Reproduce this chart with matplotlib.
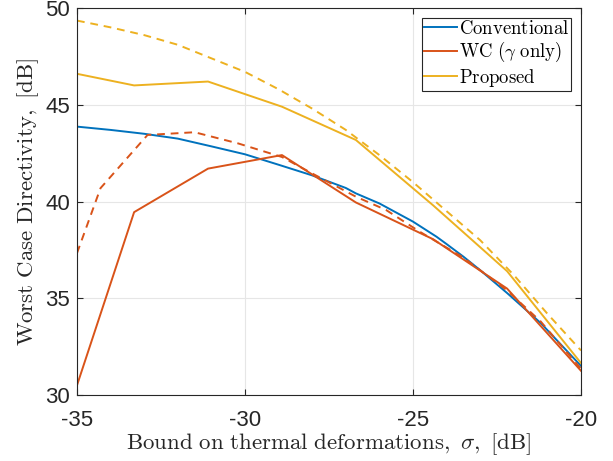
import matplotlib
matplotlib.use('Agg')
import matplotlib.pyplot as plt

# data
conv_x = [-35, -34, -33, -32, -31, -30, -29, -28, -27, -26.7, -26, -25, -24.3, -24, -23.5, -23, -22.2, -21.2, -20]
conv_y = [43.87, 43.7, 43.5, 43.25, 42.85, 42.44, 41.9, 41.35, 40.7, 40.42, 39.9, 38.96, 38.18, 37.8, 37.15, 36.45, 35.27, 33.72, 31.5]

wc_x = [-35, -33.3, -31.1, -28.9, -26.7, -24.4, -22.2, -20]
wc_y = [30.5, 39.45, 41.7, 42.4, 39.95, 38.05, 35.5, 31.25]

wc_dash_x = [-35, -34.3, -32.9, -31.5, -30.2, -28.9, -28, -26.7, -25.8, -24.8, -23.5, -22.2, -21.2, -20]
wc_dash_y = [37.33, 40.69, 43.44, 43.58, 43.0, 42.3, 41.45, 40.25, 39.56, 38.44, 37.1, 35.4, 33.8, 31.35]

prop_x = [-35, -33.3, -31.1, -28.9, -26.7, -24.4, -22.2, -20]
prop_y = [46.6, 46.0, 46.2, 44.9, 43.18, 39.8, 36.4, 31.65]

prop_dash_x = [-35, -34, -33, -32, -31, -30, -29, -28, -27, -26, -25, -24, -23, -22, -21, -20]
prop_dash_y = [49.35, 49.0, 48.6, 48.1, 47.4, 46.7, 45.8, 44.8, 43.7, 42.4, 41.0, 39.5, 38.0, 36.2, 34.2, 32.3]

plt.rcParams['font.family'] = ['Liberation Sans', 'DejaVu Sans']
plt.rcParams['mathtext.fontset'] = 'cm'
plt.rcParams['axes.unicode_minus'] = False

blue = '#0072BD'
red = '#D95319'
yellow = '#EDB120'

fig = plt.figure(figsize=(6.13, 4.61), dpi=100)
ax = fig.add_axes([0.1256, 0.1432, 0.8222, 0.8394])

ax.plot(conv_x, conv_y, color=blue, lw=1.4, label=r'$\mathrm{Conventional}$')
ax.plot(wc_x, wc_y, color=red, lw=1.4, label=r'$\mathrm{WC}\ (\gamma\ \mathrm{only})$')
ax.plot(prop_x, prop_y, color=yellow, lw=1.4, label=r'$\mathrm{Proposed}$')
ax.plot(wc_dash_x, wc_dash_y, color=red, lw=1.4, ls=(0, (4, 3)))
ax.plot(prop_dash_x, prop_dash_y, color=yellow, lw=1.4, ls=(0, (4, 3)))

ax.set_xlim(-35, -20)
ax.set_ylim(30, 50)
ax.set_xticks([-35, -30, -25, -20])
ax.set_yticks([30, 35, 40, 45, 50])
ax.grid(True, color='#e6e6e6', lw=0.8)
ax.set_axisbelow(True)
ax.tick_params(direction='in', top=True, right=True, labelsize=16, colors='#262626', length=4)
ax.tick_params(axis='x', pad=11)
ax.tick_params(axis='y', pad=5)
for s in ax.spines.values():
    s.set_color('#262626')
    s.set_linewidth(0.8)

ax.set_xlabel(r'$\mathrm{Bound\ on\ thermal\ deformations,}\ \sigma\mathrm{,\ [dB]}$', fontsize=16.5,
              color='#262626', labelpad=0)
ax.set_ylabel(r'$\mathrm{Worst\ Case\ Directivity,\ [dB]}$', fontsize=16.5, color='#262626', labelpad=3)

leg = ax.legend(loc='upper right', fontsize=13.5, fancybox=False, framealpha=1, edgecolor='#262626',
                handlelength=1.75, handletextpad=0.1, borderpad=0.12, labelspacing=0.12, borderaxespad=0.52)
leg.get_frame().set_linewidth(0.8)

fig.savefig('out.png', dpi=100)
